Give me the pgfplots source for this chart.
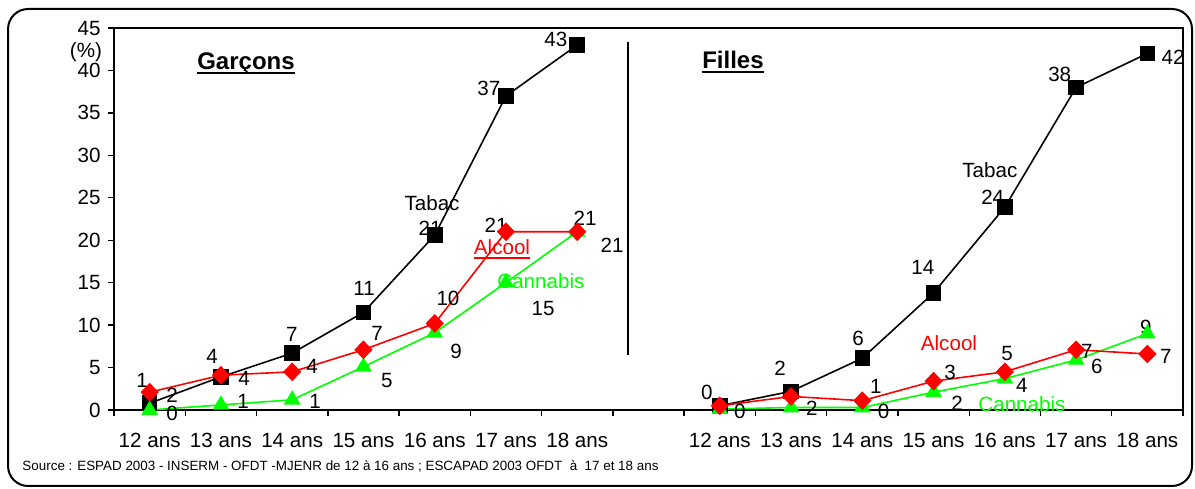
\documentclass[border=0pt]{standalone}
\usepackage{pgfplots}
\pgfplotsset{compat=1.18}
\usepackage{fontspec}
\setmainfont{Liberation Sans}
\definecolor{vert}{RGB}{0,255,0}
\newcommand\ff{\fontsize{10.3}{12}\selectfont}
\newcommand\uline[2][1pt]{\leavevmode\begingroup\setbox0\hbox{#2}\dp0=0pt
  \vtop{\box0\kern1.2pt\hrule height #1}\endgroup}
\begin{document}
\begin{tikzpicture}
\begin{axis}[
    scale only axis,
    width=534.5pt, height=191pt,
    xmin=-0.5, xmax=14.5,
    ymin=0, ymax=45,
    axis line style={line width=0.9pt},
    tick align=outside,
    tick pos=left,
    major tick length=3pt,
    tick style={black, line width=0.7pt},
    ytick={0,5,...,45},
    xtick={-0.5,0.5,...,14.5},
    xticklabels={},
    extra x ticks={0,1,2,3,4,5,6,8,9,10,11,12,13,14},
    extra x tick labels={12 ans,13 ans,14 ans,15 ans,16 ans,17 ans,18 ans,
        12 ans,13 ans,14 ans,15 ans,16 ans,17 ans,18 ans},
    extra x tick style={major tick length=0pt,
        xticklabel style={yshift=-8pt}},
    tick label style={font=\ff},
    /pgf/number format/assume math mode=true,
    clip=false,
    line width=0.8pt,
]
% Garçons
\addplot[black, mark=square*, mark size=3.5pt] coordinates {
    (0,0.8) (1,3.9) (2,6.7) (3,11.5) (4,20.6) (5,37) (6,43)};
\addplot[vert, mark=triangle*, mark size=4pt] coordinates {
    (0,0) (1,0.6) (2,1.2) (3,5.1) (4,9.1) (5,15) (6,21)};
\addplot[red, mark=diamond*, mark size=4.1pt, mark options={xscale=1.3}] coordinates {
    (0,2.1) (1,4.1) (2,4.5) (3,7.1) (4,10.2) (5,21) (6,21)};
% Filles
\addplot[black, mark=square*, mark size=3.5pt] coordinates {
    (8,0.5) (9,2.2) (10,6.1) (11,13.8) (12,23.9) (13,38) (14,42)};
\addplot[vert, mark=triangle*, mark size=4pt] coordinates {
    (8,0.1) (9,0.3) (10,0.3) (11,2.1) (12,3.7) (13,5.9) (14,9.0)};
\addplot[red, mark=diamond*, mark size=4.1pt, mark options={xscale=1.3}] coordinates {
    (8,0.5) (9,1.6) (10,1.1) (11,3.4) (12,4.5) (13,7.1) (14,6.6)};

% frame and bounding box
\path (axis cs:-2.1,-9.19) (axis cs:14.668,48.3);
\draw[line width=1pt, rounded corners=10pt]
    (axis cs:-1.987,-8.95) rectangle (axis cs:14.626,47.24);
\draw[line width=0.8pt] (axis cs:6.712,6.5) -- (axis cs:6.712,43.3);

\node[font=\ff] at (axis cs:-0.893,42.17) {(\%)};
\node[font=\fontsize{12}{14}\selectfont\bfseries] at (axis cs:1.352,40.8) {\uline[1.2pt]{Garçons}};
\node[font=\fontsize{12}{14}\selectfont\bfseries] at (axis cs:8.185,41.0) {\uline[1.2pt]{Filles}};
\node[anchor=west, font=\fontsize{6.7}{7}\selectfont] at (axis cs:-1.889,-6.6)
    {Source : ESPAD 2003 - INSERM - OFDT -MJENR de 12 à 16 ans ; ESCAPAD 2003 OFDT \ à \ 17 et 18 ans};

% Garçons labels
\begin{scope}[every node/.style={font=\ff, inner sep=0pt}]
\node at (axis cs:-0.107,3.53) {1};
\node at (axis cs:0.314,1.77) {2};
\node at (axis cs:0.314,-0.35) {0};
\node at (axis cs:0.875,6.36) {4};
\node at (axis cs:1.324,3.77) {4};
\node at (axis cs:1.31,1.06) {1};
\node at (axis cs:1.997,8.95) {7};
\node at (axis cs:2.278,5.18) {4};
\node at (axis cs:2.32,1.06) {1};
\node at (axis cs:3.008,14.37) {11};
\node at (axis cs:3.19,9.07) {7};
\node at (axis cs:3.33,3.53) {5};
\node at (axis cs:3.962,24.38) {Tabac};
\node at (axis cs:3.934,21.44) {21};
\node at (axis cs:4.186,13.2) {10};
\node at (axis cs:4.3,6.95) {9};
\node at (axis cs:4.86,21.8) {21};
\node[red] at (axis cs:4.944,18.9) {\uline[0.9pt]{Alcool}};
\node[vert] at (axis cs:5.49,15.2) {Cannabis};
\node at (axis cs:5.52,12.0) {15};
\node at (axis cs:4.76,37.9) {37};
\node at (axis cs:5.70,43.6) {43};
\node at (axis cs:6.11,22.6) {21};
\node at (axis cs:6.49,19.4) {21};
% Filles labels
\node at (axis cs:7.82,2.12) {0};
\node at (axis cs:8.28,-0.12) {0};
\node at (axis cs:8.845,4.95) {2};
\node at (axis cs:9.29,0.24) {2};
\node at (axis cs:9.94,8.48) {6};
\node at (axis cs:10.19,2.83) {1};
\node at (axis cs:10.3,-0.12) {0};
\node at (axis cs:10.85,16.85) {14};
\node at (axis cs:11.23,4.48) {3};
\node at (axis cs:11.33,0.82) {2};
\node[red] at (axis cs:11.216,7.9) {Alcool};
\node[vert] at (axis cs:12.24,0.7) {Cannabis};
\node at (axis cs:11.79,28.3) {Tabac};
\node at (axis cs:11.83,25.0) {24};
\node at (axis cs:12.03,6.6) {5};
\node at (axis cs:12.24,2.95) {4};
\node at (axis cs:12.77,39.5) {38};
\node at (axis cs:13.15,6.95) {7};
\node at (axis cs:13.29,5.18) {6};
\node at (axis cs:13.98,9.78) {9};
\node at (axis cs:14.26,6.36) {7};
\node at (axis cs:14.36,41.6) {42};
\end{scope}
\end{axis}
\end{tikzpicture}
\end{document}
